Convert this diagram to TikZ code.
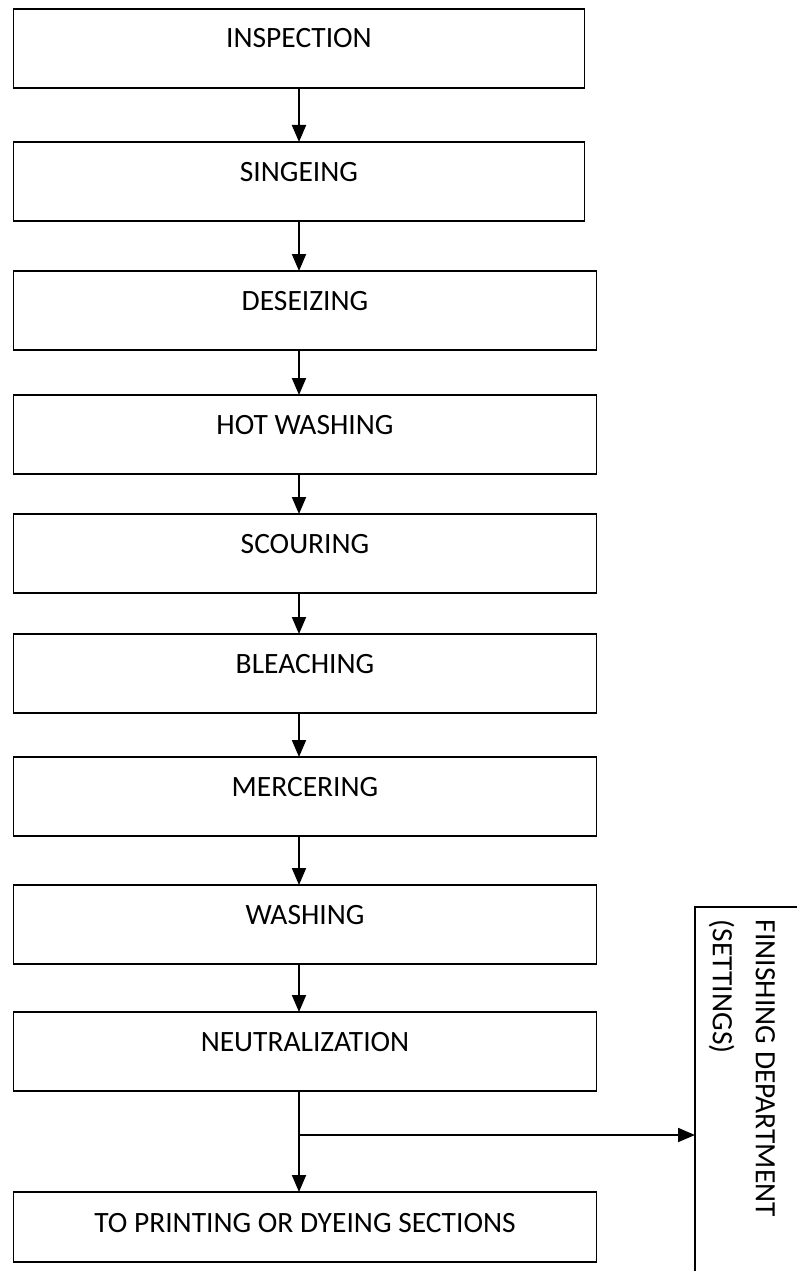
\documentclass[tikz,border=0pt]{standalone}
\usepackage{fontspec}
\setmainfont{Carlito}
\usetikzlibrary{positioning,arrows.meta}

\tikzstyle{stepbox} = [rectangle, draw = black, line width = 1.9pt, inner sep = 0pt, outer sep = 0pt, minimum width = 583pt, text height = 39pt, text depth = 40pt, anchor = north west]
\tikzstyle{narrowbox} = [stepbox, minimum width = 571pt]

\begin{document}
\begin{tikzpicture}[x = 1pt, y = -1pt, line width = 1.9pt, font = \fontsize{29.5}{43}\selectfont, >={Triangle[length = 17pt, width = 14pt]}]
	\path[use as bounding box] (0,0) rectangle (797,1271);
	\clip (0,0) rectangle (797,1271);
	\coordinate (spine) at (299,0);
	\node[narrowbox] (insp) at (13.5,9) {INSPECTION};
	\node[narrowbox, below = 54pt of insp.south west, anchor = north west] (sing) {SINGEING};
	\node[stepbox, below = 50pt of sing.south west, anchor = north west] (desz) {DESEIZING};
	\node[stepbox, below = 45pt of desz.south west, anchor = north west] (hotw) {HOT WASHING};
	\node[stepbox, below = 40pt of hotw.south west, anchor = north west] (scou) {SCOURING};
	\node[stepbox, below = 41pt of scou.south west, anchor = north west] (blea) {BLEACHING};
	\node[stepbox, below = 44pt of blea.south west, anchor = north west] (merc) {MERCERING};
	\node[stepbox, below = 49pt of merc.south west, anchor = north west] (wash) {WASHING};
	\node[stepbox, below = 48pt of wash.south west, anchor = north west] (neut) {NEUTRALIZATION};
	\node[stepbox, text height = 40pt, text depth = 30pt, below = 101pt of neut.south west, anchor = north west] (prnt) {TO PRINTING OR DYEING SECTIONS};
	% side box, runs off the page
	\node[draw, inner sep = 0pt, outer sep = 0pt, minimum width = 200pt, minimum height = 500pt, anchor = north west] (finish) at (695,907) {};
	\node[rotate = -90, align = left, inner sep = 0pt, anchor = north west] (finlabel) at (776,919) {FINISHING DEPARTMENT\\(SETTINGS)};
	\path (neut.south -| spine) ++(0,44) coordinate (split);
	\path[->]
	(insp.south -| spine) edge (sing.north -| spine)
	(sing.south -| spine) edge (desz.north -| spine)
	(desz.south -| spine) edge (hotw.north -| spine)
	(hotw.south -| spine) edge (scou.north -| spine)
	(scou.south -| spine) edge (blea.north -| spine)
	(blea.south -| spine) edge (merc.north -| spine)
	(merc.south -| spine) edge (wash.north -| spine)
	(wash.south -| spine) edge (neut.north -| spine)
	(neut.south -| spine) edge (prnt.north -| spine)
	(split) edge (split -| finish.west);
\end{tikzpicture}
\end{document}
